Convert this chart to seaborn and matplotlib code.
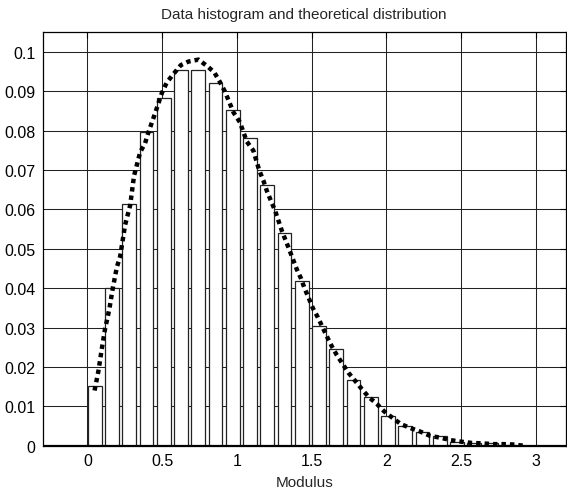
import numpy as np
import matplotlib
matplotlib.use('Agg')
import matplotlib.pyplot as plt
import seaborn as sns

# histogram bins (centres) and normalised counts
bin_centers = [0.05, 0.165, 0.281, 0.396, 0.511, 0.627, 0.742, 0.857, 0.972, 1.088,
               1.203, 1.318, 1.434, 1.549, 1.664, 1.780, 1.895, 2.010, 2.126, 2.241,
               2.356, 2.472, 2.587, 2.702, 2.818]
bin_heights = [0.0151, 0.0400, 0.0613, 0.0797, 0.0883, 0.0954, 0.0954, 0.0921, 0.0853, 0.0781,
               0.0662, 0.0539, 0.0419, 0.0305, 0.0245, 0.0168, 0.0123, 0.0076, 0.0051, 0.0034,
               0.0024, 0.0010, 0.0007, 0.0008, 0.0003]
bin_width = 0.1153

# theoretical distribution (dotted curve)
curve_x = [0.048, 0.074, 0.096, 0.118, 0.147, 0.17, 0.197, 0.219, 0.252, 0.286, 0.312, 0.353,
           0.386, 0.408, 0.453, 0.498, 0.531, 0.575, 0.625, 0.676, 0.743, 0.799, 0.848, 0.888,
           0.921, 0.977, 1.02, 1.066, 1.11, 1.15, 1.177, 1.20, 1.227, 1.256, 1.278, 1.30,
           1.351, 1.374, 1.40, 1.428, 1.452, 1.481, 1.508, 1.541, 1.601, 1.635, 1.668, 1.708,
           1.746, 1.79, 1.835, 1.88, 1.936, 1.985, 2.043, 2.096, 2.159, 2.225, 2.292, 2.364,
           2.431, 2.504, 2.571, 2.638, 2.716, 2.783, 2.85, 2.917]
curve_y = [0.0140, 0.0190, 0.0245, 0.0296, 0.0347, 0.0400, 0.0453, 0.0480, 0.0560, 0.0610,
           0.0685, 0.0745, 0.0768, 0.0795, 0.0844, 0.0895, 0.0922, 0.0943, 0.0966, 0.0975,
           0.0980, 0.0964, 0.0948, 0.0922, 0.0898, 0.0846, 0.0821, 0.0772, 0.0749, 0.0698,
           0.0673, 0.0647, 0.0622, 0.0596, 0.0571, 0.0546, 0.0497, 0.0474, 0.0448, 0.0425,
           0.0400, 0.0374, 0.0349, 0.0326, 0.0278, 0.0252, 0.0230, 0.0207, 0.0185, 0.0165,
           0.0144, 0.0124, 0.0106, 0.0087, 0.0070, 0.0055, 0.0045, 0.0036, 0.0025, 0.0020,
           0.0014, 0.0010, 0.0007, 0.0006, 0.0004, 0.0004, 0.0003, 0.0000]

sns.set_style('white')
plt.rcParams['font.family'] = ['Liberation Sans', 'DejaVu Sans']

fig = plt.figure(figsize=(5.67, 4.89), dpi=100)
ax = fig.add_axes([0.075, 0.0865, 0.923, 0.846])

sns.histplot(x=bin_centers, weights=bin_heights, binwidth=bin_width,
             binrange=(bin_centers[0] - bin_width / 2, bin_centers[-1] + bin_width / 2),
             shrink=0.8, color='white', edgecolor='#222222', linewidth=0.9, alpha=1,
             ax=ax, zorder=2)
sns.lineplot(x=curve_x, y=curve_y, color='black', linewidth=3.2, linestyle=(0, (1, 0.9)),
             ax=ax, zorder=3)
ax.axhline(0, color='black', lw=1.6, zorder=4)

ax.set_xlim(-0.3, 3.2)
ax.set_ylim(0, 0.105)
ax.set_xticks(np.arange(0, 3.01, 0.5))
ax.set_xticklabels(['0', '0.5', '1', '1.5', '2', '2.5', '3'])
ax.set_yticks(np.arange(0, 0.1001, 0.01))
ax.set_yticklabels(['0', '0.01', '0.02', '0.03', '0.04', '0.05', '0.06', '0.07', '0.08', '0.09', '0.1'])
ax.tick_params(direction='in', length=4, width=0.8, top=True, right=True,
               labelsize=11.5, colors='black', pad=5)
ax.grid(True, color='#222222', linewidth=0.75, linestyle='-')
ax.set_axisbelow(True)
for s in ax.spines.values():
    s.set_color('black')
    s.set_linewidth(0.9)

ax.set_ylabel('')
ax.set_xlabel('Modulus', fontsize=11, labelpad=5)
ax.set_title('Data histogram and theoretical distribution', fontsize=11, pad=10)

fig.savefig('out.png', dpi=100)
